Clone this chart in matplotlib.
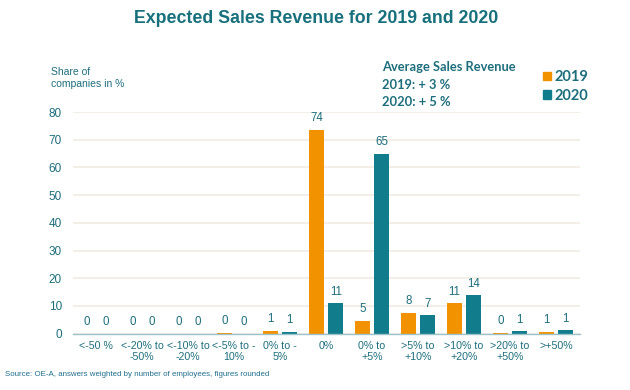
import numpy as np
import matplotlib
matplotlib.use('Agg')
import matplotlib.pyplot as plt
from matplotlib.patches import Patch

##===========================================
# Data
##===========================================
categories = ['<-50 %', '<-20% to\n-50%', '<-10% to\n-20%', '<-5% to -\n10%', '0% to -\n5%',
              '0%', '0% to\n+5%', '>5% to\n+10%', '>10% to\n+20%', '>20% to\n+50%', '>+50%']
share_2019 = [0, 0, 0, 0.3, 1.0, 73.5, 4.6, 7.5, 11.0, 0.3, 0.7]
share_2020 = [0, 0, 0, 0, 0.6, 11.0, 65.0, 6.6, 13.8, 0.9, 1.2]
labels_2019 = [0, 0, 0, 0, 1, 74, 5, 8, 11, 0, 1]
labels_2020 = [0, 0, 0, 0, 1, 11, 65, 7, 14, 1, 1]
yticks = [0, 10, 20, 30, 40, 50, 60, 70, 80]

orange = '#F39200'
teal = '#117D8C'
txt = '#1D6E7C'
grid_c = '#F1ECE2'

plt.rcParams['font.family'] = ['Liberation Sans', 'DejaVu Sans']

fig = plt.figure(figsize=(6.3, 3.9), dpi=100)
ax = fig.add_axes([0.116, 0.1446, 0.8046, 0.5682])

ind = np.arange(len(categories))
width = 0.33
off = 0.21

b1 = ax.bar(ind - off, share_2019, width, color=orange, zorder=3)
b2 = ax.bar(ind + off, share_2020, width, color=teal, zorder=3)

for bars, labs in ((b1, labels_2019), (b2, labels_2020)):
    for rect, lab in zip(bars, labs):
        ax.annotate(str(lab), (rect.get_x() + rect.get_width() / 2, rect.get_height()),
                    xytext=(0, 4), textcoords='offset points', ha='center', va='bottom',
                    fontsize=8.3, color=txt)

ax.set_xlim(-0.5, 10.52)
ax.set_ylim(0, 80)
ax.set_yticks(yticks)
ax.set_xticks(ind)
ax.set_xticklabels(categories, fontsize=7.7, color=txt, linespacing=1.15)
ax.tick_params(axis='y', labelsize=8.5, labelcolor=txt, length=0, pad=8)
ax.tick_params(axis='x', length=0, pad=5)
ax.yaxis.grid(True, color=grid_c, linewidth=1.2, zorder=0)
for s in ('top', 'right', 'left'):
    ax.spines[s].set_visible(False)
ax.spines['bottom'].set_color('#9CC3CC')
ax.spines['bottom'].set_linewidth(1.0)
ax.spines['bottom'].set_zorder(4)

fig.text(0.502, 0.953, 'Expected Sales Revenue for 2019 and 2020', ha='center', va='center',
         fontsize=12.8, fontweight='bold', color='#17707C')
fig.text(0.081, 0.800, 'Share of\ncompanies in %', ha='left', va='center',
         fontsize=7.5, color=txt, linespacing=1.3)

fig.text(0.607, 0.828, 'Average Sales Revenue', ha='left', va='center',
         fontsize=9.3, fontweight='bold', color=txt, family=['Lato', 'DejaVu Sans'])
fig.text(0.607, 0.782, '2019: + 3 %', ha='left', va='center',
         fontsize=9.3, fontweight='bold', color=txt, family=['Lato', 'DejaVu Sans'])
fig.text(0.607, 0.738, '2020: + 5 %', ha='left', va='center',
         fontsize=9.3, fontweight='bold', color=txt, family=['Lato', 'DejaVu Sans'])

handles = [Patch(color=orange), Patch(color=teal)]
fig.legend(handles, ['2019', '2020'], loc='upper left', bbox_to_anchor=(0.852, 0.835),
           frameon=False, handlelength=0.55, handleheight=0.55, handletextpad=0.3,
           labelspacing=0.3, borderaxespad=0,
           prop={'family': ['Lato', 'DejaVu Sans'], 'weight': 'bold', 'size': 10.5},
           labelcolor=txt)

fig.text(0.008, 0.040, 'Source: OE-A, answers weighted by number of employees, figures rounded',
         ha='left', va='center', fontsize=5.7, color='#1F6E8C')

plt.savefig('out.png', dpi=100)
